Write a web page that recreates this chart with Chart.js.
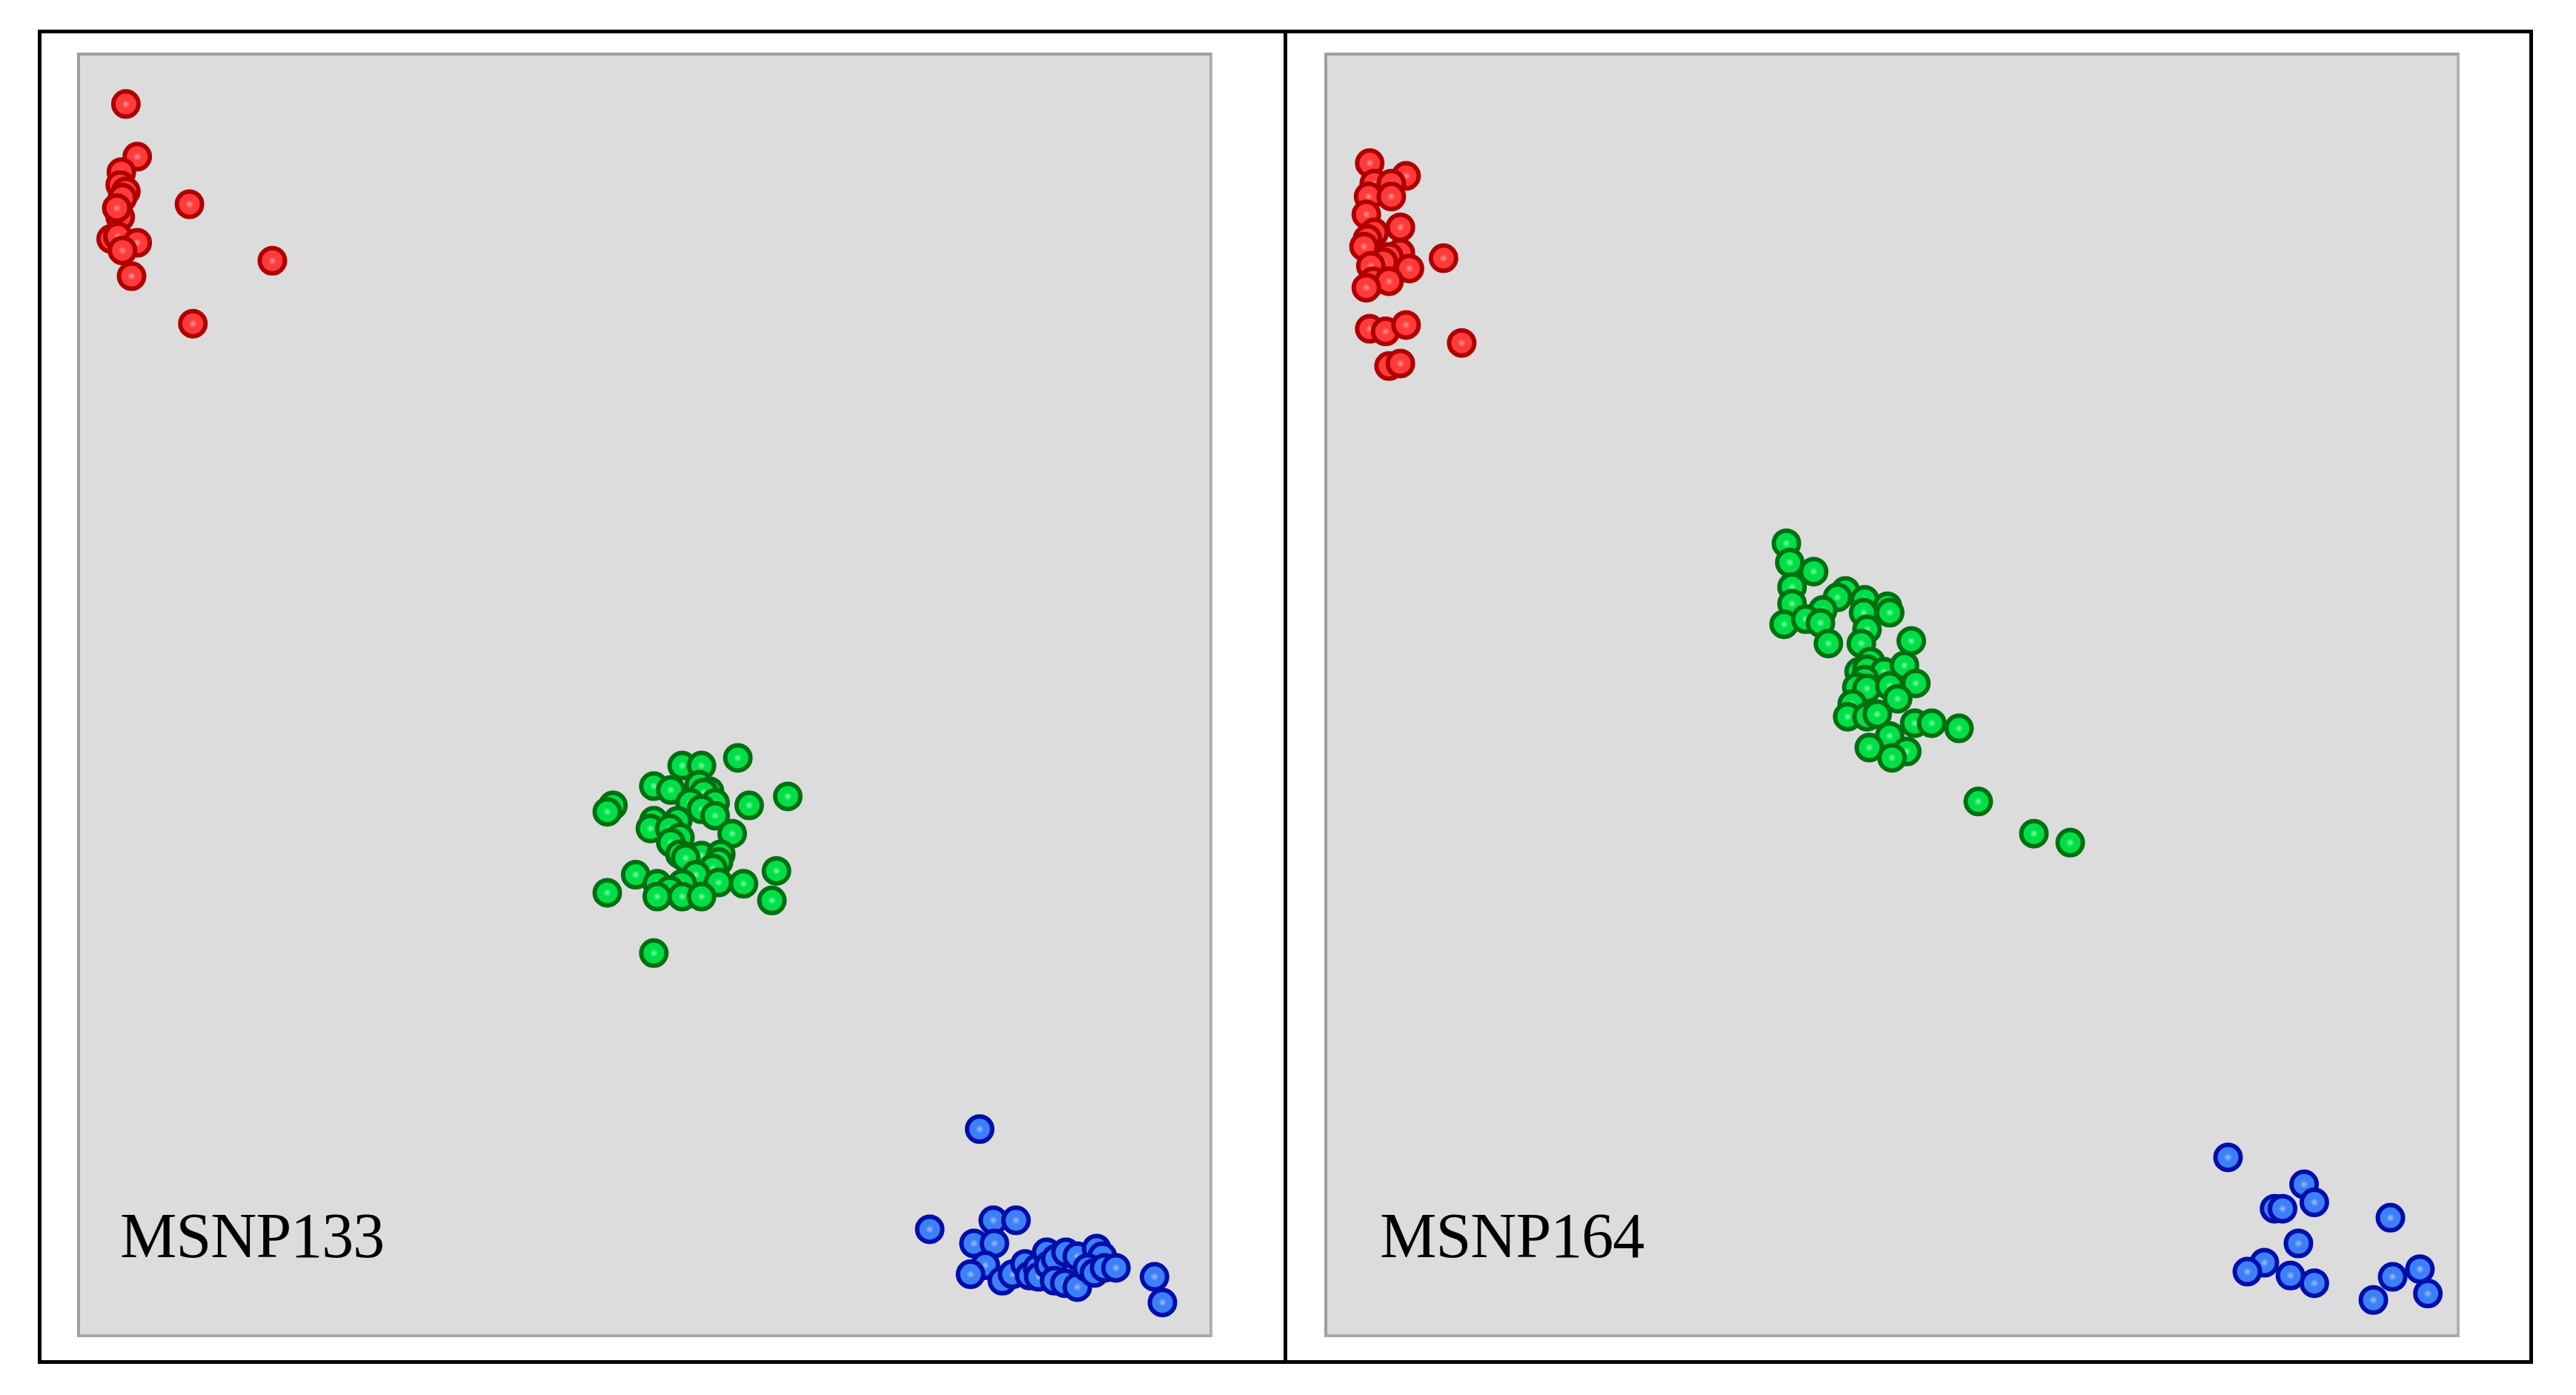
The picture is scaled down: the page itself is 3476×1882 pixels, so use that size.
<!DOCTYPE html>
<html>
<head>
<meta charset="utf-8">
<title>MSNP133 / MSNP164</title>
<script src="https://cdn.jsdelivr.net/npm/chart.js@4.4.0/dist/chart.umd.min.js"></script>
<style>
  html, body { margin: 0; padding: 0; background: #fff; }
  body { width: 3476px; height: 1882px; position: relative; overflow: hidden; }
  .frame { position: absolute; left: 51px; top: 40px; width: 3367px; height: 1800px;
           border: 5px solid #000; box-sizing: border-box; }
  .divider { position: absolute; left: 1732px; top: 40px; width: 5px; height: 1800px; background: #000; }
  .plot { position: absolute; top: 71px; width: 1532px; height: 1733px; background: #dcdcdc;
          border: 4px solid #9e9e9e; border-right-color: #b0b0b0; border-bottom-color: #a8a8a8;
          box-sizing: border-box; }
  .plot canvas { position: absolute; left: -4px; top: -4px; }
  .label { position: absolute; top: 1624px; font-family: "Liberation Serif", "Times New Roman", serif;
           font-size: 86px; line-height: 86px; letter-spacing: -1px; color: #000; white-space: nowrap; }
</style>
</head>
<body>
<div class="frame"></div>
<div class="divider"></div>
<div class="plot" style="left:104px"><canvas id="msnp133" width="1532" height="1733"></canvas></div>
<div class="plot" style="left:1787px"><canvas id="msnp164" width="1532" height="1733"></canvas></div>
<div class="label" style="left:162px">MSNP133</div>
<div class="label" style="left:1862px">MSNP164</div>

<script>
// panel values, both axes 0..100 (plot area fraction)
var msnp133Red = [
  [4.3, 96.0], [5.3, 91.9], [3.9, 90.7], [3.8, 89.7], [4.3, 89.2], [4.0, 88.7],
  [3.8, 87.2], [3.5, 87.9], [3.0, 85.5], [3.6, 85.7], [5.3, 85.2], [4.0, 84.6],
  [4.8, 82.6], [9.9, 88.2], [17.2, 83.8], [10.2, 78.9]
];
var msnp133Green = [
  [58.2, 45.1], [53.3, 44.5], [55.0, 44.5], [50.8, 42.9], [52.3, 42.6], [54.8, 43.0],
  [55.7, 42.5], [55.2, 42.4], [62.6, 42.1], [47.2, 41.4], [46.7, 40.9], [54.0, 41.6],
  [56.2, 41.6], [59.2, 41.4], [55.0, 41.1], [56.2, 40.6], [50.8, 40.2], [50.5, 39.6],
  [52.9, 40.2], [52.2, 39.6], [57.7, 39.2], [53.1, 38.9], [52.3, 38.5], [53.1, 37.6],
  [55.0, 37.5], [56.7, 37.6], [53.6, 37.3], [56.5, 37.0], [56.0, 36.5], [49.2, 36.0],
  [54.5, 36.0], [61.6, 36.3], [51.1, 35.3], [53.3, 35.3], [56.5, 35.4], [58.7, 35.3],
  [46.7, 34.6], [52.2, 34.8], [51.1, 34.3], [53.3, 34.3], [55.0, 34.3], [61.2, 34.0],
  [50.8, 29.9]
];
var msnp133Blue = [
  [79.5, 16.2], [75.1, 8.4], [80.7, 9.1], [82.7, 9.1], [79.0, 7.3], [80.8, 7.3],
  [80.0, 5.6], [78.7, 4.9], [81.5, 4.4], [82.4, 4.9], [83.5, 5.7], [83.9, 4.8],
  [84.6, 5.4], [84.7, 4.7], [85.4, 6.6], [85.6, 5.6], [86.2, 6.1], [87.1, 6.6],
  [88.1, 6.3], [86.1, 4.4], [87.0, 4.2], [88.1, 3.9], [89.8, 6.9], [90.3, 6.3],
  [89.0, 5.4], [89.6, 5.0], [90.5, 5.4], [91.5, 5.4], [94.9, 4.7], [95.6, 2.7]
];

var msnp164Red = [
  [4.0, 91.4], [7.2, 90.4], [4.4, 89.8], [5.9, 89.8], [3.9, 88.8], [5.9, 88.8],
  [3.7, 87.4], [6.7, 86.4], [4.4, 86.0], [3.8, 85.5], [3.5, 84.9], [6.7, 84.4],
  [5.7, 84.1], [5.2, 83.7], [4.1, 83.4], [7.5, 83.2], [10.5, 84.0], [4.3, 82.2],
  [5.7, 82.2], [3.7, 81.7], [4.0, 78.5], [5.4, 78.3], [7.2, 78.8], [12.1, 77.4],
  [5.7, 75.6], [6.7, 75.8]
];
var msnp164Green = [
  [40.7, 61.8], [41.0, 60.3], [43.1, 59.6], [41.2, 58.4], [45.9, 58.1], [45.2, 57.6],
  [47.6, 57.4], [41.2, 57.1], [43.9, 56.6], [49.6, 56.9], [49.8, 56.4], [47.5, 56.4],
  [40.5, 55.5], [42.4, 55.9], [43.7, 55.6], [47.8, 55.1], [44.4, 54.0], [47.3, 54.0],
  [51.7, 54.2], [48.1, 52.6], [47.1, 51.8], [47.8, 52.0], [49.3, 51.8], [51.1, 52.3],
  [47.6, 51.2], [46.9, 50.6], [47.8, 50.5], [49.8, 50.7], [52.1, 50.9], [46.5, 49.3],
  [50.5, 49.7], [46.1, 48.3], [47.8, 48.3], [48.7, 48.5], [52.0, 47.8], [53.5, 47.8],
  [55.9, 47.4], [49.8, 46.8], [48.0, 45.9], [51.3, 45.6], [50.0, 45.1], [57.6, 41.7],
  [62.5, 39.2], [65.7, 38.5]
];
var msnp164Blue = [
  [79.6, 14.0], [86.3, 11.9], [87.2, 10.5], [83.7, 10.0], [84.4, 10.0], [93.9, 9.3],
  [85.8, 7.3], [82.8, 5.8], [81.3, 5.1], [85.1, 4.8], [87.2, 4.2], [96.5, 5.3],
  [94.1, 4.7], [97.2, 3.4], [92.4, 2.9]
];

function toPoints(arr) {
  return arr.map(function (p) { return { x: p[0], y: p[1] }; });
}

// lighter centre, like the shaded markers in the figure
function shaded(centre, body) {
  return function (c) {
    var el = c.element;
    if (!el || el.x === undefined) return body;
    var g = c.chart.ctx.createRadialGradient(el.x, el.y, 0, el.x, el.y, 14);
    g.addColorStop(0, centre);
    g.addColorStop(0.4, body);
    g.addColorStop(1, body);
    return g;
  };
}

function cluster(arr, centre, body, edge) {
  return {
    data: toPoints(arr),
    backgroundColor: shaded(centre, body),
    borderColor: edge,
    pointRadius: 17,
    pointHoverRadius: 17,
    pointBorderWidth: 6,
    clip: false
  };
}

function drawPanel(id, red, green, blue) {
  var ctx = document.getElementById(id).getContext("2d");
  return new Chart(ctx, {
    type: "scatter",
    data: {
      datasets: [
        cluster(red, "#ff9a9a", "#ff3a3a", "#b00000"),
        cluster(green, "#7dffa0", "#00df48", "#007010"),
        cluster(blue, "#9ec2ff", "#3d7ff6", "#000eaa")
      ]
    },
    options: {
      responsive: false,
      animation: false,
      events: [],
      layout: { padding: 0, autoPadding: false },
      plugins: { legend: { display: false }, tooltip: { enabled: false } },
      scales: {
        x: { type: "linear", min: 0, max: 100, display: false },
        y: { type: "linear", min: 0, max: 100, display: false }
      }
    }
  });
}

drawPanel("msnp133", msnp133Red, msnp133Green, msnp133Blue);
drawPanel("msnp164", msnp164Red, msnp164Green, msnp164Blue);
</script>
</body>
</html>
